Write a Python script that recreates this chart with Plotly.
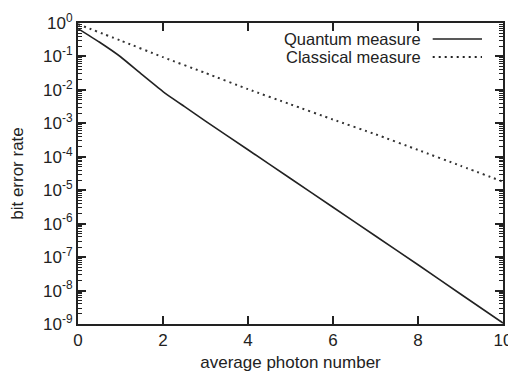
import plotly.graph_objects as go

# Data
photon_number = [0, 0.5, 1, 1.5, 2, 2.5, 3, 4, 5, 6, 7, 8, 9, 10]
quantum_ber = [0.68, 0.27, 0.098, 0.029, 0.0089, 0.0032, 1.17e-3, 1.62e-4,
               2.24e-5, 3.1e-6, 4.27e-7, 5.9e-8, 7.9e-9, 1.07e-9]

photon_number_c = [0, 1, 2, 3, 4, 5, 6, 7, 8, 9, 10]
classical_ber = [0.92, 0.30, 0.095, 0.032, 0.0105, 0.0037, 0.0013, 4.7e-4,
                 1.6e-4, 5.4e-5, 1.8e-5]

y_exponents = [0, -1, -2, -3, -4, -5, -6, -7, -8, -9]
x_ticks = [0, 2, 4, 6, 8, 10]
legend_names = ["Quantum measure", "Classical measure"]

font_family = "Liberation Sans, Arial, Helvetica, sans-serif"
ink = "#222222"

fig = go.Figure()
fig.add_trace(go.Scatter(x=photon_number, y=quantum_ber, mode="lines",
                         name=legend_names[0],
                         line=dict(color=ink, width=1.6, shape="spline",
                                   smoothing=0.5)))
fig.add_trace(go.Scatter(x=photon_number_c, y=classical_ber, mode="lines",
                         name=legend_names[1],
                         line=dict(color="#333333", width=2, dash="2px,4px",
                                   shape="spline", smoothing=0.5)))

minor_vals = [m * 10 ** e for e in range(-9, 0) for m in range(2, 10)]

# page body has an 8px margin, so the figure is 8px smaller and margins shifted
fig.update_layout(
    width=508, height=364,
    margin=dict(l=70, r=13, t=15, b=48),
    paper_bgcolor="white", plot_bgcolor="white",
    showlegend=False,
    font=dict(family=font_family, size=17, color=ink),
    xaxis=dict(range=[0, 10], tickmode="array", tickvals=x_ticks,
               ticktext=[str(v) for v in x_ticks], automargin=False,
               ticks="inside", ticklen=8, tickwidth=1.5, tickcolor=ink,
               showline=True, linecolor=ink, linewidth=2, mirror="allticks",
               showgrid=False, zeroline=False,
               title=dict(text="average photon number", standoff=15,
                          font=dict(size=17))),
    yaxis=dict(type="log", range=[-9, 0], tickmode="array", automargin=False,
               tickvals=[10 ** e for e in y_exponents],
               ticktext=["10<sup>%d</sup>" % e for e in y_exponents],
               ticks="inside", ticklen=8, tickwidth=1.5, tickcolor=ink,
               showline=True, linecolor=ink, linewidth=2, mirror="allticks",
               showgrid=False, zeroline=False,
               minor=dict(tickmode="array", tickvals=minor_vals,
                          ticks="inside", ticklen=4, tickwidth=1,
                          tickcolor=ink, showgrid=False),
               title=dict(text="bit error rate", standoff=16,
                          font=dict(size=17))),
)

# gnuplot-style key: text right-aligned, line sample to its right
key_y = [0.9468, 0.887]
key_dash = ["solid", "2px,4px"]
for name, yy, dash in zip(legend_names, key_y, key_dash):
    fig.add_annotation(xref="paper", yref="paper", x=0.8087, y=yy,
                       text=name, showarrow=False, xanchor="right",
                       yanchor="middle", font=dict(size=16.5, color=ink),
                       borderpad=0)
    fig.add_shape(type="line", xref="paper", yref="paper",
                  x0=0.8346, x1=0.9506, y0=yy, y1=yy,
                  line=dict(color=ink, width=1.6 if dash == "solid" else 2,
                            dash=dash))

fig.write_html("out.html")
